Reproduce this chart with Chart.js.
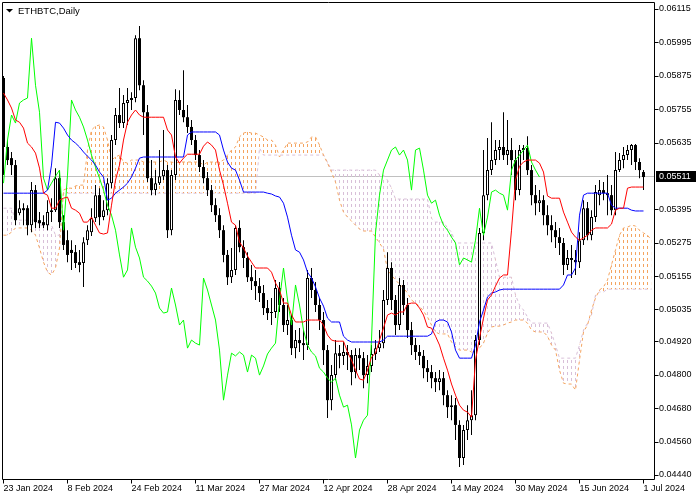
<!DOCTYPE html>
<html>
<head>
<meta charset="utf-8">
<script src="https://cdn.jsdelivr.net/npm/chart.js@4.4.1/dist/chart.umd.min.js"></script>
<style>
html, body { margin: 0; padding: 0; background: #fff; }
canvas { display: block; }
</style>
</head>
<body>
<canvas id="chart" width="700" height="500"></canvas>
<script>
// ETHBTC daily bars, 23 Jan 2024 - 1 Jul 2024, Ichimoku (9, 26, 52)
const symbolTitle = "ETHBTC,Daily";

// bar index of every date label (one bar = one day)
const xTickBars = [0, 16, 32, 48, 64, 80, 96, 112, 128, 144, 160];
const xTickLabels = ["23 Jan 2024", "8 Feb 2024", "24 Feb 2024", "11 Mar 2024", "27 Mar 2024",
    "12 Apr 2024", "28 Apr 2024", "14 May 2024", "30 May 2024", "15 Jun 2024", "1 Jul 2024"];
const yTickLabels = ["0.06115", "0.05995", "0.05875", "0.05755", "0.05635", "0.05395", "0.05275",
    "0.05155", "0.05035", "0.04920", "0.04800", "0.04680", "0.04560", "0.04440"];

const openPrices = [
    0.05867,0.05619,0.05579,0.05554,0.05381,0.05399,0.05399,0.05338,0.05464,0.05356,
    0.05349,0.05338,0.05385,0.05392,0.05507,0.05349,0.05284,0.05249,0.05241,0.05205,
    0.05202,0.05284,0.05313,0.05363,0.05446,0.05367,0.05392,0.05489,0.05644,0.05734,
    0.05705,0.05777,0.05788,0.05795,0.06010,0.05841,0.05744,0.05507,0.05464,0.05489,
    0.05514,0.05536,0.05320,0.05518,0.05788,0.05752,0.05726,0.05691,0.05644,0.05590,
    0.05547,0.05507,0.05464,0.05410,0.05374,0.05320,0.05231,0.05151,0.05177,0.05328,
    0.05259,0.05220,0.05151,0.05137,0.05119,0.05094,0.05040,0.05022,0.05026,0.05112,
    0.05051,0.04979,0.04997,0.04896,0.04925,0.04914,0.04907,0.05148,0.05105,0.05051,
    0.04997,0.04889,0.04709,0.04799,0.04878,0.04868,0.04882,0.04871,0.04810,0.04871,
    0.04860,0.04799,0.04832,0.04875,0.04896,0.04914,0.05069,0.05184,0.05069,0.04979,
    0.05123,0.05051,0.04961,0.04907,0.04882,0.04868,0.04824,0.04810,0.04788,0.04774,
    0.04788,0.04727,0.04684,0.04691,0.04620,0.04501,0.04602,0.04637,0.04655,0.04925,
    0.05310,0.05446,0.05536,0.05572,0.05608,0.05619,0.05590,0.05608,0.05572,0.05464,
    0.05608,0.05615,0.05536,0.05446,0.05417,0.05428,0.05374,0.05338,0.05320,0.05295,
    0.05274,0.05195,0.05220,0.05213,0.05205,0.05284,0.05399,0.05302,0.05367,0.05446,
    0.05464,0.05453,0.05446,0.05392,0.05536,0.05572,0.05590,0.05608,0.05626,0.05565,
    0.05529
];
const highPrices = [
    0.05874,0.05644,0.05601,0.05572,0.05428,0.05417,0.05410,0.05493,0.05482,0.05385,
    0.05374,0.05428,0.05435,0.05543,0.05536,0.05374,0.05320,0.05284,0.05267,0.05249,
    0.05295,0.05338,0.05399,0.05482,0.05471,0.05428,0.05507,0.05662,0.05759,0.05831,
    0.05806,0.05831,0.05816,0.06021,0.06054,0.05859,0.05770,0.05572,0.05536,0.05608,
    0.05680,0.05554,0.05536,0.05827,0.05823,0.05895,0.05770,0.05716,0.05662,0.05608,
    0.05572,0.05529,0.05482,0.05435,0.05399,0.05338,0.05249,0.05256,0.05338,0.05356,
    0.05284,0.05241,0.05195,0.05177,0.05148,0.05123,0.05069,0.05076,0.05141,0.05134,
    0.05076,0.05051,0.05015,0.04961,0.04968,0.04961,0.05177,0.05184,0.05134,0.05076,
    0.05026,0.04907,0.04835,0.04925,0.04907,0.04918,0.04907,0.04889,0.04896,0.04896,
    0.04882,0.04871,0.04907,0.04925,0.04961,0.05105,0.05241,0.05205,0.05087,0.05148,
    0.05141,0.05076,0.04990,0.04932,0.04907,0.04889,0.04853,0.04835,0.04810,0.04817,
    0.04810,0.04745,0.04727,0.04717,0.04637,0.04620,0.04691,0.04745,0.04943,0.05328,
    0.05608,0.05651,0.05708,0.05644,0.05644,0.05744,0.05716,0.05651,0.05608,0.05626,
    0.05626,0.05658,0.05554,0.05482,0.05464,0.05446,0.05410,0.05374,0.05349,0.05328,
    0.05292,0.05249,0.05267,0.05249,0.05313,0.05428,0.05421,0.05392,0.05482,0.05500,
    0.05493,0.05518,0.05482,0.05601,0.05597,0.05619,0.05626,0.05630,0.05630,0.05579,
    0.05536
];
const lowPrices = [
    0.05518,0.05554,0.05518,0.05338,0.05374,0.05338,0.05302,0.05313,0.05328,0.05328,
    0.05328,0.05320,0.05349,0.05385,0.05328,0.05249,0.05205,0.05177,0.05184,0.05169,
    0.05116,0.05267,0.05299,0.05349,0.05338,0.05356,0.05374,0.05471,0.05626,0.05687,
    0.05687,0.05698,0.05752,0.05780,0.05823,0.05662,0.05493,0.05446,0.05446,0.05482,
    0.05500,0.05292,0.05302,0.05500,0.05734,0.05708,0.05669,0.05626,0.05572,0.05529,
    0.05489,0.05443,0.05385,0.05349,0.05292,0.05205,0.05123,0.05130,0.05159,0.05241,
    0.05184,0.05134,0.05105,0.05069,0.05062,0.05015,0.04997,0.04979,0.05004,0.05026,
    0.04954,0.04943,0.04871,0.04860,0.04882,0.04853,0.04889,0.05076,0.05026,0.04961,
    0.04835,0.04645,0.04673,0.04781,0.04824,0.04835,0.04817,0.04763,0.04788,0.04817,
    0.04752,0.04770,0.04810,0.04853,0.04882,0.04896,0.05051,0.05033,0.04943,0.04961,
    0.05015,0.04932,0.04871,0.04853,0.04835,0.04788,0.04774,0.04752,0.04738,0.04745,
    0.04691,0.04645,0.04637,0.04566,0.04469,0.04476,0.04566,0.04584,0.04637,0.04907,
    0.05284,0.05428,0.05518,0.05554,0.05572,0.05572,0.05554,0.05518,0.05428,0.05446,
    0.05572,0.05518,0.05410,0.05374,0.05385,0.05338,0.05302,0.05277,0.05256,0.05231,
    0.05159,0.05177,0.05148,0.05159,0.05184,0.05267,0.05284,0.05284,0.05349,0.05410,
    0.05428,0.05374,0.05374,0.05374,0.05529,0.05543,0.05572,0.05554,0.05536,0.05507,
    0.05464
];
const closePrices = [
    0.05619,0.05572,0.05554,0.05356,0.05399,0.05392,0.05338,0.05464,0.05349,0.05345,
    0.05338,0.05385,0.05392,0.05507,0.05349,0.05267,0.05231,0.05238,0.05202,0.05195,
    0.05277,0.05320,0.05363,0.05446,0.05367,0.05392,0.05489,0.05644,0.05734,0.05705,
    0.05777,0.05788,0.05795,0.06010,0.05841,0.05744,0.05507,0.05464,0.05489,0.05514,
    0.05536,0.05320,0.05518,0.05788,0.05752,0.05726,0.05691,0.05644,0.05590,0.05547,
    0.05507,0.05464,0.05410,0.05374,0.05320,0.05231,0.05151,0.05177,0.05328,0.05259,
    0.05220,0.05151,0.05137,0.05119,0.05094,0.05040,0.05022,0.05026,0.05112,0.05051,
    0.04979,0.04997,0.04896,0.04925,0.04914,0.04907,0.05148,0.05105,0.05051,0.04997,
    0.04889,0.04709,0.04799,0.04878,0.04868,0.04882,0.04871,0.04810,0.04871,0.04860,
    0.04799,0.04832,0.04875,0.04896,0.04914,0.05069,0.05184,0.05069,0.04979,0.05123,
    0.05051,0.04961,0.04907,0.04882,0.04868,0.04824,0.04810,0.04788,0.04774,0.04788,
    0.04727,0.04684,0.04691,0.04620,0.04501,0.04602,0.04637,0.04655,0.04925,0.05310,
    0.05446,0.05536,0.05572,0.05608,0.05619,0.05590,0.05608,0.05572,0.05464,0.05608,
    0.05615,0.05536,0.05446,0.05417,0.05428,0.05374,0.05338,0.05320,0.05295,0.05274,
    0.05195,0.05220,0.05213,0.05205,0.05284,0.05399,0.05302,0.05367,0.05457,0.05464,
    0.05453,0.05446,0.05392,0.05536,0.05572,0.05590,0.05608,0.05626,0.05565,0.05536,
    0.05511
];

// Ichimoku lines
const tenkanSen = [
    0.05813,0.05788,0.05759,0.05716,0.05708,0.05687,0.05633,0.05619,0.05597,0.05543,
    0.05453,0.05446,0.05399,0.05399,0.05428,0.05435,0.05439,0.05399,0.05392,0.05381,
    0.05349,0.05349,0.05367,0.05338,0.05310,0.05306,0.05310,0.05410,0.05500,0.05554,
    0.05644,0.05708,0.05734,0.05752,0.05734,0.05726,0.05726,0.05726,0.05726,0.05726,
    0.05726,0.05680,0.05662,0.05583,0.05561,0.05579,0.05593,0.05593,0.05593,0.05593,
    0.05622,0.05637,0.05626,0.05608,0.05536,0.05482,0.05417,0.05349,0.05338,0.05277,
    0.05256,0.05227,0.05205,0.05184,0.05184,0.05184,0.05184,0.05169,0.05130,0.05105,
    0.05058,0.05058,0.05015,0.04990,0.04990,0.04990,0.04997,0.04997,0.04997,0.04997,
    0.04979,0.04943,0.04925,0.04921,0.04921,0.04921,0.04882,0.04853,0.04817,0.04785,
    0.04781,0.04817,0.04864,0.04878,0.04925,0.04968,0.05015,0.05022,0.05015,0.05026,
    0.05026,0.05054,0.05058,0.05058,0.05040,0.05015,0.04972,0.04968,0.04939,0.04907,
    0.04860,0.04817,0.04767,0.04727,0.04691,0.04673,0.04666,0.04648,0.04853,0.04932,
    0.05004,0.05069,0.05087,0.05119,0.05148,0.05159,0.05159,0.05320,0.05500,0.05550,
    0.05565,0.05572,0.05572,0.05572,0.05561,0.05529,0.05443,0.05435,0.05435,0.05435,
    0.05385,0.05349,0.05313,0.05295,0.05284,0.05292,0.05302,0.05320,0.05328,0.05328,
    0.05328,0.05328,0.05342,0.05392,0.05399,0.05399,0.05471,0.05475,0.05475,0.05475,
    0.05475
];
const kijunSen = [
    0.05453,0.05453,0.05453,0.05453,0.05453,0.05453,0.05453,0.05453,0.05453,0.05453,
    0.05453,0.05464,0.05554,0.05708,0.05705,0.05687,0.05662,0.05644,0.05633,0.05619,
    0.05601,0.05586,0.05572,0.05554,0.05529,0.05511,0.05428,0.05435,0.05453,0.05464,
    0.05475,0.05489,0.05511,0.05543,0.05579,0.05583,0.05583,0.05583,0.05583,0.05583,
    0.05583,0.05583,0.05583,0.05583,0.05583,0.05583,0.05662,0.05673,0.05673,0.05673,
    0.05673,0.05673,0.05673,0.05673,0.05662,0.05608,0.05565,0.05543,0.05536,0.05500,
    0.05457,0.05457,0.05457,0.05457,0.05457,0.05457,0.05453,0.05450,0.05443,0.05439,
    0.05417,0.05367,0.05302,0.05249,0.05241,0.05213,0.05169,0.05148,0.05116,0.05076,
    0.05047,0.05004,0.04990,0.04990,0.04990,0.04939,0.04925,0.04918,0.04918,0.04918,
    0.04918,0.04918,0.04918,0.04918,0.04918,0.04925,0.04939,0.04939,0.04939,0.04939,
    0.04939,0.04939,0.04939,0.04939,0.04939,0.04939,0.04939,0.04947,0.04990,0.04997,
    0.04997,0.04990,0.04954,0.04889,0.04860,0.04860,0.04860,0.04860,0.04907,0.04990,
    0.05033,0.05080,0.05094,0.05098,0.05105,0.05108,0.05108,0.05108,0.05108,0.05108,
    0.05108,0.05108,0.05108,0.05108,0.05108,0.05108,0.05108,0.05108,0.05108,0.05108,
    0.05123,0.05159,0.05159,0.05184,0.05374,0.05446,0.05453,0.05453,0.05453,0.05453,
    0.05453,0.05453,0.05410,0.05399,0.05399,0.05399,0.05399,0.05392,0.05389,0.05389,
    0.05389
];
// cloud spans, already shifted forward, run two bars past the last candle
const senkouSpanA = [
    0.05302,0.05302,0.05313,0.05328,0.05328,0.05328,0.05328,0.05320,0.05302,0.05256,
    0.05205,0.05169,0.05159,0.05184,0.05256,0.05464,0.05471,0.05471,0.05479,0.05482,
    0.05482,0.05608,0.05680,0.05694,0.05698,0.05691,0.05644,0.05572,0.05583,0.05590,
    0.05565,0.05561,0.05572,0.05572,0.05572,0.05565,0.05565,0.05565,0.05565,0.05565,
    0.05572,0.05565,0.05565,0.05561,0.05565,0.05565,0.05565,0.05565,0.05565,0.05565,
    0.05554,0.05565,0.05565,0.05565,0.05565,0.05572,0.05590,0.05608,0.05619,0.05655,
    0.05669,0.05673,0.05669,0.05669,0.05662,0.05655,0.05644,0.05644,0.05626,0.05583,
    0.05608,0.05633,0.05633,0.05633,0.05633,0.05633,0.05637,0.05655,0.05655,0.05626,
    0.05590,0.05561,0.05529,0.05493,0.05428,0.05385,0.05367,0.05353,0.05338,0.05324,
    0.05317,0.05317,0.05317,0.05295,0.05274,0.05252,0.05177,0.05159,0.05141,0.05126,
    0.05112,0.05094,0.05069,0.05058,0.05047,0.05029,0.05008,0.04979,0.04954,0.04947,
    0.04947,0.04947,0.04918,0.04900,0.04889,0.04889,0.04889,0.04882,0.04882,0.04896,
    0.04914,0.04950,0.04972,0.04975,0.04975,0.04979,0.04986,0.04990,0.04997,0.04997,
    0.04997,0.04986,0.04961,0.04954,0.04954,0.04954,0.04939,0.04907,0.04889,0.04817,
    0.04770,0.04767,0.04767,0.04745,0.04853,0.04954,0.04979,0.05033,0.05076,0.05105,
    0.05116,0.05141,0.05195,0.05249,0.05302,0.05328,0.05331,0.05338,0.05335,0.05320,
    0.05310,0.05302,0.05284
];
const senkouSpanB = [
    0.05399,0.05399,0.05399,0.05356,0.05356,0.05356,0.05356,0.05356,0.05356,0.05338,
    0.05338,0.05338,0.05338,0.05302,0.05302,0.05453,0.05453,0.05453,0.05453,0.05453,
    0.05453,0.05453,0.05453,0.05453,0.05453,0.05453,0.05453,0.05453,0.05453,0.05453,
    0.05453,0.05453,0.05453,0.05453,0.05453,0.05453,0.05453,0.05453,0.05453,0.05453,
    0.05453,0.05453,0.05453,0.05453,0.05453,0.05453,0.05453,0.05453,0.05453,0.05453,
    0.05453,0.05453,0.05453,0.05453,0.05453,0.05453,0.05453,0.05453,0.05453,0.05453,
    0.05453,0.05453,0.05453,0.05453,0.05615,0.05590,0.05590,0.05590,0.05590,0.05590,
    0.05590,0.05590,0.05590,0.05590,0.05590,0.05590,0.05590,0.05590,0.05590,0.05590,
    0.05590,0.05565,0.05536,0.05536,0.05536,0.05536,0.05536,0.05536,0.05536,0.05536,
    0.05536,0.05536,0.05536,0.05536,0.05518,0.05518,0.05500,0.05471,0.05432,0.05432,
    0.05432,0.05432,0.05432,0.05432,0.05432,0.05432,0.05432,0.05363,0.05349,0.05349,
    0.05349,0.05328,0.05313,0.05274,0.05274,0.05274,0.05274,0.05274,0.05274,0.05274,
    0.05274,0.05274,0.05274,0.05213,0.05151,0.05151,0.05151,0.05151,0.05087,0.05051,
    0.05033,0.05008,0.04986,0.04986,0.04986,0.04986,0.04986,0.04950,0.04907,0.04860,
    0.04860,0.04860,0.04860,0.04860,0.04907,0.04961,0.04986,0.05015,0.05087,0.05098,
    0.05098,0.05108,0.05108,0.05108,0.05108,0.05108,0.05108,0.05108,0.05108,0.05108,
    0.05108,0.05108,0.05108
];
const chikouShift = 26;

// vertical dotted hatch, one dotted column per bar
function hatch(color) {
    const c = document.createElement("canvas");
    c.width = 4;
    c.height = 6;
    const g = c.getContext("2d");
    g.fillStyle = color;
    g.fillRect(3, 0, 1, 3);
    return g.createPattern(c, "repeat");
}

const toPoints = (arr) => arr.map((v, i) => ({ x: i, y: v }));

const wicks = lowPrices.map((l, i) => ({ x: i, y: [l, highPrices[i]] }));
const bullBodies = [];
const bearBodies = [];
closePrices.forEach((c, i) => {
    const o = openPrices[i];
    if (c >= o) bullBodies.push({ x: i, y: [o, c] });
    else bearBodies.push({ x: i, y: [o, c] });
});
const chikouSpan = closePrices.slice(chikouShift).map((c, i) => ({ x: i, y: c }));

const lineBase = { type: "line", borderWidth: 1, pointRadius: 0, tension: 0, fill: false };
const barBase = { grouped: false, inflateAmount: 0, borderSkipped: false };
const labelFont = { family: "Liberation Sans", size: 9 };

const mtFrame = {
    id: "mtFrame",
    beforeDatasetsDraw(chart) {
        // bid line
        const { ctx, chartArea: a, scales: { y } } = chart;
        const py = Math.round(y.getPixelForValue(closePrices[closePrices.length - 1])) - 0.5;
        ctx.save();
        ctx.strokeStyle = "#C0C0C0";
        ctx.lineWidth = 1;
        ctx.beginPath();
        ctx.moveTo(a.left, py);
        ctx.lineTo(a.right, py);
        ctx.stroke();
        ctx.restore();
    },
    afterDraw(chart) {
        const { ctx, chartArea: a, scales: { x, y } } = chart;
        const L = Math.floor(a.left) + 0.5, R = Math.floor(a.right) + 0.5;
        const T = Math.floor(a.top) + 0.5, B = Math.floor(a.bottom) + 0.5;
        ctx.save();
        ctx.strokeStyle = "#000";
        ctx.lineWidth = 1;
        ctx.beginPath();
        ctx.moveTo(L, B); ctx.lineTo(L, T); ctx.lineTo(R, T); ctx.lineTo(R, B); ctx.lineTo(L, B);
        y.ticks.forEach(t => {
            const p = Math.round(y.getPixelForValue(t.value)) + 0.5;
            ctx.moveTo(R, p); ctx.lineTo(R + 4, p);
        });
        x.ticks.forEach(t => {
            const p = Math.floor(x.getPixelForValue(t.value)) + 0.5;
            ctx.moveTo(p, B); ctx.lineTo(p, B + 4);
        });
        ctx.stroke();

        // last price box
        const last = closePrices[closePrices.length - 1];
        const py = Math.round(y.getPixelForValue(last)) - 1;
        ctx.fillStyle = "#000";
        ctx.fillRect(656, py - 5, 40, 11);
        ctx.fillStyle = "#FFF";
        ctx.font = "9px 'Liberation Sans'";
        ctx.textBaseline = "middle";
        ctx.textAlign = "left";
        ctx.fillText(last.toFixed(5), 659, py + 0.5);

        // symbol title
        ctx.fillStyle = "#000";
        ctx.beginPath();
        ctx.moveTo(6, 9); ctx.lineTo(13, 9); ctx.lineTo(9.5, 12.5); ctx.closePath();
        ctx.fill();
        ctx.font = "9.5px 'Liberation Sans'";
        ctx.textBaseline = "alphabetic";
        ctx.fillText(symbolTitle, 18, 14);
        ctx.restore();
    }
};

new Chart("chart", {
    type: "bar",
    data: {
        datasets: [
            { ...lineBase, label: "Tenkan-sen", data: toPoints(tenkanSen), borderColor: "#FF0000", order: 1 },
            { ...lineBase, label: "Kijun-sen", data: toPoints(kijunSen), borderColor: "#0000FF", order: 2 },
            { ...lineBase, label: "Chikou Span", data: chikouSpan, borderColor: "#00FF00", order: 3 },
            { ...barBase, label: "Up", data: bullBodies, backgroundColor: "#FFFFFF", borderColor: "#000000", borderWidth: 1, barThickness: 3, order: 4 },
            { ...barBase, label: "Down", data: bearBodies, backgroundColor: "#000000", borderWidth: 0, barThickness: 3, order: 5 },
            { ...barBase, label: "Range", data: wicks, backgroundColor: "#000000", borderWidth: 0, barThickness: 1, order: 6 },
            { ...lineBase, label: "Senkou Span A", data: toPoints(senkouSpanA), borderColor: "#F4A460", borderDash: [3, 3],
              fill: { target: "+1", above: hatch("#F4A460"), below: hatch("#D8BFD8") }, order: 7 },
            { ...lineBase, label: "Senkou Span B", data: toPoints(senkouSpanB), borderColor: "#D8BFD8", borderDash: [3, 3], order: 8 }
        ]
    },
    options: {
        responsive: false,
        animation: false,
        devicePixelRatio: 1,
        events: [],
        layout: { padding: { left: 2, top: 2, right: 0, bottom: 0 } },
        plugins: { legend: { display: false }, tooltip: { enabled: false } },
        scales: {
            x: {
                type: "linear",
                min: -0.375,
                max: 162.625,
                offset: false,
                grid: { display: false, drawTicks: false },
                border: { display: false },
                afterBuildTicks: s => { s.ticks = xTickBars.map(v => ({ value: v })); },
                afterFit: s => { s.height = 21; s.paddingLeft = 0; s.paddingRight = 0; },
                ticks: {
                    autoSkip: false, maxRotation: 0, minRotation: 0, align: "start", padding: 4,
                    color: "#000", font: labelFont,
                    callback: (v, i) => xTickLabels[i]
                }
            },
            y: {
                position: "right",
                min: 0.044256,
                max: 0.061402,
                grid: { display: false, drawTicks: false },
                border: { display: false },
                afterBuildTicks: s => { s.ticks = yTickLabels.map(t => ({ value: parseFloat(t) })); },
                afterFit: s => { s.width = 46; s.paddingTop = 0; s.paddingBottom = 0; },
                ticks: {
                    padding: 5, color: "#000", font: labelFont,
                    callback: (v, i) => yTickLabels[i]
                }
            }
        }
    },
    plugins: [mtFrame]
});
</script>
</body>
</html>
